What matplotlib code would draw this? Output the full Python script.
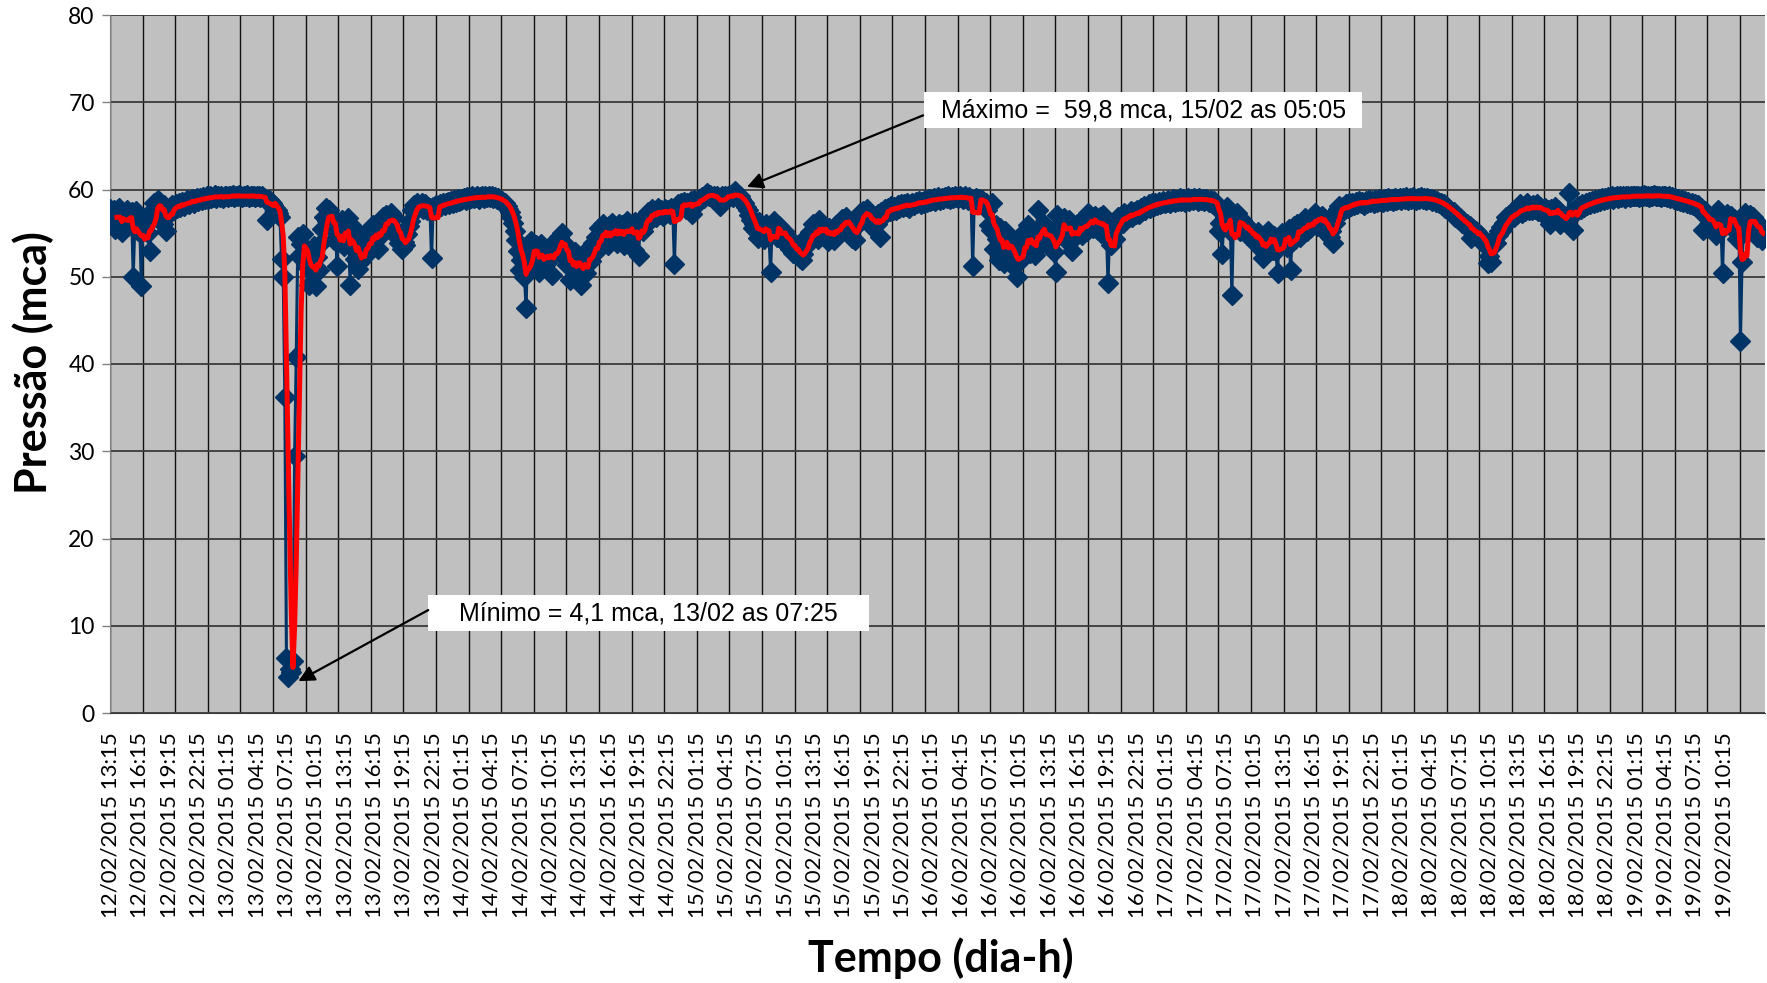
import numpy as np
import pandas as pd
import matplotlib
matplotlib.use("Agg")
import matplotlib.pyplot as plt
from matplotlib.patches import Rectangle

# Pressure log: one reading every 10 minutes starting 12/02/2015 13:15
inicio = pd.Timestamp("2015-02-12 13:15")
passo_min = 10

pressao = [
    57.8, 56.2, 57.6, 55.5, 57.0, 57.9, 56.1, 55.1, 57.2, 56.4, 57.7, 55.8, 56.6, 57.4, 50.0, 56.0, 57.5, 55.3,  # 12/02 13:15
    55.8, 48.9, 56.3, 55.2, 56.8, 55.0, 52.9, 56.5, 57.6, 58.4, 57.9, 58.8, 58.0, 57.4, 56.1, 58.2, 55.2, 57.0,  # 12/02 16:15
    57.4, 57.9, 58.2, 57.6, 58.3, 57.9, 58.5, 58.0, 58.6, 58.1, 58.4, 58.8, 58.3, 58.7, 58.9, 58.4, 58.8, 59.0,  # 12/02 19:15
    58.7, 59.0, 58.8, 59.1, 58.9, 59.2, 58.9, 59.3, 59.0, 59.1, 59.4, 59.0, 59.2, 59.1, 59.3, 59.0, 59.2, 59.3,  # 12/02 22:15
    59.1, 59.3, 59.2, 59.4, 59.1, 59.3, 59.2, 59.4, 59.2, 59.1, 59.3, 59.2, 59.4, 59.1, 59.3, 59.2, 59.3, 59.1,  # 13/02 01:15
    59.2, 59.3, 59.1, 59.2, 59.0, 58.9, 56.5, 58.8, 58.7, 58.5, 58.2, 57.9, 57.6, 57.3, 56.8, 52.0, 50.0, 36.2,  # 13/02 04:15
    6.3, 4.1, 5.0, 4.7, 6.0, 29.4, 40.8, 54.6, 52.4, 53.8, 54.9, 52.0, 53.2, 51.0, 49.0, 51.8, 50.6, 53.5,        # 13/02 07:15
    48.9, 52.3, 50.8, 53.9, 55.5, 56.8, 57.9, 56.4, 57.6, 55.8, 56.9, 54.2, 56.1, 51.2, 55.4, 54.0, 56.5, 53.5,  # 13/02 10:15
    55.6, 53.9, 56.7, 49.1, 55.8, 54.6, 52.0, 53.4, 50.9, 52.6, 51.8, 53.9, 52.4, 55.0, 53.1, 54.6, 53.8, 55.9,  # 13/02 13:15
    54.0, 55.6, 53.2, 56.1, 54.8, 56.9, 55.3, 57.1, 55.9, 56.6, 57.3, 55.6, 56.8, 54.7, 55.2, 53.9, 54.8, 53.2,  # 13/02 16:15
    54.0, 53.6, 54.9, 55.8, 56.4, 57.6, 58.2, 57.7, 58.4, 57.9, 58.1, 58.5, 57.8, 58.3, 57.6, 58.0, 57.9, 52.1,  # 13/02 19:15
    58.0, 57.7, 58.2, 57.9, 58.3, 58.1, 58.5, 58.2, 58.4, 58.6, 58.3, 58.7, 58.5, 58.8, 58.6, 58.9, 58.7, 58.8,  # 13/02 22:15
    58.9, 59.0, 58.8, 59.1, 58.9, 59.0, 59.2, 59.0, 59.1, 59.2, 58.9, 59.1, 59.3, 59.0, 59.2, 59.1, 59.3, 59.1,  # 14/02 01:15
    59.2, 59.0, 59.1, 58.9, 59.0, 58.8, 58.7, 58.5, 58.4, 58.1, 57.8, 57.4, 56.9, 56.2, 55.3, 54.2, 53.0, 50.8,  # 14/02 04:15
    51.9, 52.3, 50.0, 46.4, 53.4, 52.6, 54.1, 53.0, 51.5, 53.6, 52.4, 50.6, 53.8, 52.0, 51.1, 53.2, 51.6, 52.9,  # 14/02 07:15
    53.3, 50.2, 52.7, 54.1, 52.9, 54.6, 53.2, 55.0, 52.1, 53.7, 51.4, 52.5, 49.6, 52.2, 51.0, 52.8, 50.3, 51.6,  # 14/02 10:15
    52.3, 49.0, 51.5, 52.6, 50.4, 52.0, 53.4, 51.8, 53.9, 52.7, 54.5, 53.3, 55.6, 54.2, 56.0, 54.4, 55.3, 53.6,  # 14/02 13:15
    55.8, 54.3, 56.2, 54.7, 55.4, 53.9, 56.0, 54.8, 55.9, 53.6, 55.5, 56.4, 54.5, 56.1, 55.0, 53.1, 56.3, 55.2,  # 14/02 16:15
    52.4, 55.8, 56.6, 55.3, 57.0, 56.2, 57.4, 56.5, 57.8, 56.9, 57.5, 56.8, 57.9, 57.2, 57.6, 57.0, 57.8, 57.3,  # 14/02 19:15
    57.6, 57.2, 57.9, 57.4, 51.5, 57.8, 58.3, 57.9, 58.4, 58.1, 58.6, 57.8, 58.4, 58.2, 58.7, 57.2, 58.8, 58.5,  # 14/02 22:15
    58.6, 58.9, 58.7, 59.1, 59.0, 59.3, 59.6, 59.2, 59.4, 59.1, 59.3, 59.0, 59.2, 58.4, 58.1, 59.2, 59.0, 59.3,  # 15/02 01:15
    59.1, 59.3, 59.2, 59.4, 59.1, 59.8, 59.3, 59.1, 59.2, 58.9, 58.6, 58.4, 58.0, 57.6, 57.1, 56.5, 55.6, 56.0,  # 15/02 04:15
    55.2, 54.4, 56.3, 55.0, 55.8, 54.3, 56.1, 55.5, 54.7, 50.6, 55.9, 56.4, 55.1, 54.6, 55.8, 55.0, 54.2, 55.3,  # 15/02 07:15
    54.8, 53.6, 54.5, 53.2, 54.0, 52.7, 53.4, 52.6, 53.1, 52.2, 51.9, 52.6, 53.5, 54.6, 53.7, 55.1, 54.2, 56.0,  # 15/02 10:15
    54.6, 55.7, 54.3, 56.5, 55.0, 55.8, 54.7, 55.3, 54.1, 55.6, 54.8, 55.4, 54.2, 55.9, 55.1, 56.2, 55.5, 56.6,  # 15/02 13:15
    56.0, 56.8, 55.7, 56.4, 55.2, 54.4, 55.6, 54.2, 55.9, 56.7, 57.3, 56.6, 57.5, 57.0, 57.8, 56.9, 56.1, 55.7,  # 15/02 16:15
    56.4, 56.9, 56.0, 57.2, 54.6, 57.4, 57.0, 57.8, 57.3, 57.9, 57.5, 58.1, 57.6, 58.0, 57.7, 58.2, 57.9, 58.3,  # 15/02 19:15
    58.0, 58.3, 58.1, 58.4, 57.9, 58.3, 58.5, 58.2, 58.6, 58.4, 58.7, 58.3, 58.6, 58.5, 58.8, 58.6, 58.9, 58.7,  # 15/02 22:15
    58.8, 59.0, 58.7, 58.9, 59.1, 58.8, 59.0, 58.9, 59.1, 59.0, 59.2, 58.9, 59.1, 59.0, 59.2, 59.1, 59.0, 59.2,  # 16/02 01:15
    59.1, 58.9, 59.2, 59.0, 58.8, 59.1, 58.9, 51.2, 58.8, 59.0, 58.7, 58.9, 58.6, 58.8, 58.5, 58.4, 57.6, 55.9,  # 16/02 04:15
    55.4, 58.4, 53.2, 55.9, 54.3, 51.9, 55.6, 53.4, 51.6, 55.2, 53.9, 52.4, 54.6, 51.3, 53.5, 52.0, 50.0, 53.1,  # 16/02 07:15
    51.8, 54.0, 52.6, 55.3, 53.0, 55.9, 52.7, 54.4, 53.1, 52.5, 55.0, 57.7, 53.6, 55.8, 54.1, 56.1, 54.5, 53.7,  # 16/02 10:15
    55.2, 53.9, 54.6, 52.8, 50.6, 57.1, 54.9, 56.2, 55.0, 56.7, 55.3, 54.1, 56.5, 55.4, 53.0, 55.8, 54.6, 56.0,  # 16/02 13:15
    55.1, 56.3, 54.8, 55.9, 56.6, 55.2, 57.3, 55.8, 56.9, 55.6, 57.0, 56.1, 55.4, 56.8, 55.0, 57.1, 54.9, 55.3,  # 16/02 16:15
    49.3, 54.8, 53.6, 55.6, 54.3, 56.4, 56.8, 55.9, 57.0, 56.2, 57.3, 56.6, 57.1, 56.9, 57.5, 56.8, 57.4, 57.2,  # 16/02 19:15
    57.6, 57.2, 57.9, 57.5, 58.1, 57.7, 58.0, 58.3, 57.9, 58.4, 58.1, 58.5, 58.2, 58.6, 58.3, 58.5, 58.7, 58.4,  # 16/02 22:15
    58.6, 58.8, 58.5, 58.7, 58.9, 58.6, 58.8, 58.7, 59.0, 58.7, 58.9, 58.6, 58.8, 59.0, 58.7, 58.9, 58.8, 59.0,  # 17/02 01:15
    58.9, 58.7, 59.0, 58.8, 58.9, 58.7, 58.9, 58.8, 58.6, 58.8, 58.5, 58.7, 58.3, 57.9, 55.3, 56.2, 52.6, 55.9,  # 17/02 04:15
    56.8, 58.0, 55.4, 56.3, 47.9, 56.9, 55.8, 57.3, 56.0, 55.2, 56.5, 55.4, 56.1, 54.8, 55.7, 54.5, 55.3, 54.2,  # 17/02 07:15
    54.9, 53.8, 55.1, 54.0, 53.2, 52.1, 54.6, 53.5, 55.2, 53.9, 54.4, 53.1, 54.7, 52.9, 50.4, 54.2, 53.6, 55.0,  # 17/02 10:15
    53.8, 54.9, 53.4, 55.5, 50.8, 54.6, 55.8, 54.3, 56.0, 55.1, 54.5, 56.3, 55.4, 56.7, 55.2, 56.1, 55.6, 56.5,  # 17/02 13:15
    56.2, 57.3, 55.8, 56.9, 56.4, 57.0, 55.9, 56.6, 55.0, 55.7, 54.6, 55.3, 53.9, 56.2, 57.4, 57.8, 58.1, 57.6,  # 17/02 16:15
    58.0, 57.7, 58.3, 57.9, 58.4, 58.1, 58.5, 58.2, 58.6, 58.3, 58.7, 58.4, 58.6, 58.2, 58.7, 58.5, 58.8, 58.6,  # 17/02 19:15
    58.7, 58.5, 58.8, 58.6, 58.9, 58.7, 58.8, 58.6, 58.9, 58.7, 59.0, 58.8, 58.9, 58.7, 59.0, 58.8, 58.9, 59.0,  # 17/02 22:15
    58.8, 59.0, 58.9, 59.1, 58.8, 59.0, 58.9, 59.1, 58.9, 58.8, 59.0, 58.9, 59.1, 58.9, 59.0, 58.8, 59.0, 58.9,  # 18/02 01:15
    58.9, 58.7, 58.8, 58.6, 58.7, 58.4, 58.5, 58.2, 58.3, 57.9, 58.0, 57.6, 57.7, 57.3, 57.4, 56.9, 57.0, 56.6,  # 18/02 04:15
    56.7, 56.2, 56.4, 55.9, 56.1, 55.6, 55.8, 54.4, 55.5, 55.0, 55.2, 54.6, 54.8, 54.1, 54.3, 53.6, 53.8, 51.6,  # 18/02 07:15
    52.4, 51.7, 53.8, 54.3, 53.9, 54.8, 55.2, 55.7, 55.4, 56.2, 56.8, 56.4, 57.1, 56.7, 57.4, 56.9, 57.6, 57.2,  # 18/02 10:15
    57.6, 58.3, 57.3, 57.9, 57.5, 58.4, 57.7, 58.1, 57.6, 58.2, 57.8, 58.3, 57.5, 58.0, 57.7, 57.2, 57.9, 57.4,  # 18/02 13:15
    57.6, 56.1, 57.8, 57.4, 58.0, 57.3, 57.6, 56.1, 57.2, 56.6, 57.0, 56.4, 57.1, 59.6, 56.8, 55.4, 57.5, 57.9,  # 18/02 16:15
    57.6, 58.1, 57.8, 58.3, 58.0, 58.4, 58.2, 58.6, 58.3, 58.7, 58.5, 58.8, 58.6, 58.9, 58.7, 59.0, 58.8, 59.0,  # 18/02 19:15
    58.9, 59.1, 59.0, 59.2, 58.9, 59.1, 59.2, 59.0, 59.3, 59.1, 59.2, 59.0, 59.3, 59.2, 59.1, 59.3, 59.2, 59.3,  # 18/02 22:15
    59.2, 59.3, 59.1, 59.3, 59.2, 59.4, 59.2, 59.3, 59.1, 59.3, 59.2, 59.4, 59.3, 59.2, 59.3, 59.1, 59.3, 59.2,  # 19/02 01:15
    59.3, 59.1, 59.2, 59.0, 59.1, 58.9, 59.0, 58.8, 58.9, 58.7, 58.8, 58.6, 58.7, 58.5, 58.6, 58.3, 58.5, 58.2,  # 19/02 04:15
    58.3, 58.0, 58.2, 57.7, 57.9, 55.4, 57.5, 56.8, 57.0, 56.1, 55.6, 56.9, 55.2, 54.8, 57.7, 55.5, 56.3, 50.4,  # 19/02 07:15
    56.8, 55.9, 57.2, 56.4, 57.0, 55.7, 56.6, 55.1, 54.3, 56.2, 42.6, 51.7, 55.4, 57.3, 55.0, 56.8, 57.1, 55.6,  # 19/02 10:15
    56.9, 55.3, 54.6, 56.2, 55.4, 54.2, 54.5,                                                                    # 19/02 13:15
]

janela_media = 5   # moving-average period (points)
rotulos_x = pd.date_range(inicio, periods=56, freq="3h").strftime("%d/%m/%Y %H:%M").tolist()
valores_y = list(range(0, 81, 10))

texto_minimo = "Mínimo = 4,1 mca, 13/02 as 07:25"
texto_maximo = "Máximo =  59,8 mca, 15/02 as 05:05"

# ---------------------------------------------------------------------------
horas = np.arange(len(pressao)) * passo_min / 60.0
serie = pd.Series(pressao, index=horas)
media_movel = serie.rolling(janela_media).mean()

W, H = 1767, 983
fig = plt.figure(figsize=(W / 100, H / 100), dpi=100)
ax = fig.add_axes([110 / W, 270 / H, 1655 / W, 698 / H])
ax.set_facecolor("#C0C0C0")

x0 = -1 / 24
ax.set_xlim(x0, x0 + 169.22)
ax.set_ylim(0, 80)

# vertical grid every 40 five-minute categories
ax.set_xticks(x0 + np.arange(0, 51) * 40 * 5 / 60, minor=True)
ax.set_xticks(np.arange(len(rotulos_x)) * 3.0)
ax.set_xticklabels(rotulos_x, rotation=90, fontsize=16, family="Lato")
ax.tick_params(axis="x", which="both", length=0, pad=14)
ax.grid(which="minor", axis="x", color="#111111", lw=1.0)

ax.set_yticks(valores_y)
ax.set_yticklabels([str(v) for v in valores_y], fontsize=16.5, family="Lato")
ax.tick_params(axis="y", length=6, width=1, color="#808080", pad=5)
ax.grid(which="major", axis="y", color="#3a3a3a", lw=1.3)
ax.set_axisbelow(True)

for s in ("top", "right"):
    ax.spines[s].set_visible(False)
ax.spines["left"].set_color("#808080")
ax.spines["bottom"].set_color("#3a3a3a")

ax.plot(horas, pressao, color="#003366", lw=2.2, marker="D", ms=10.5,
        mfc="#003366", mec="#003366", zorder=3)
ax.plot(media_movel.index, media_movel.values, color="#FF0000", lw=3.6, zorder=4)

# annotations for minimum and maximum
i_min = int(np.argmin(pressao))
i_max = int(np.argmax(pressao))
h_min, v_min = horas[i_min], pressao[i_min]
h_max, v_max = horas[i_max], pressao[i_max]


def caixa(x1, x2, y1, y2, texto):
    ax.add_patch(Rectangle((x1, y1), x2 - x1, y2 - y1, facecolor="white",
                           edgecolor="none", zorder=6))
    ax.text((x1 + x2) / 2, (y1 + y2) / 2, texto, ha="center", va="center",
            fontsize=18, family="Liberation Sans", zorder=7)


caixa(83.2, 128.0, 67.05, 71.17, texto_maximo)
caixa(32.5, 77.6, 9.40, 13.52, texto_minimo)

seta = dict(arrowstyle="-|>", color="black", lw=1.6, mutation_scale=24,
            shrinkA=0, shrinkB=0)
ax.annotate("", xy=(h_max + 1.25, v_max + 0.5), xytext=(83.1, 68.5),
            arrowprops=seta, zorder=8)
ax.annotate("", xy=(h_min + 1.05, v_min - 0.45), xytext=(32.5, 11.8),
            arrowprops=seta, zorder=8)

fig.text(33 / W, 1 - 363 / H, "Pressão (mca)", rotation=90, ha="center",
         va="center", fontsize=31, fontweight="bold", family="Lato")
fig.text(941 / W, 1 - 958 / H, "Tempo (dia-h)", ha="center", va="center",
         fontsize=31, fontweight="bold", family="Lato")

fig.savefig("out.png", dpi=100)
